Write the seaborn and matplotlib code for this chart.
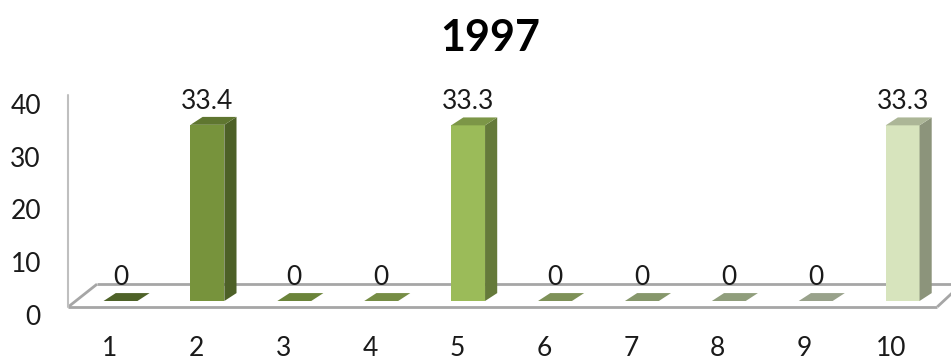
import matplotlib
matplotlib.use("Agg")
import matplotlib.pyplot as plt
from matplotlib.patches import Polygon
from matplotlib.transforms import ScaledTranslation
import matplotlib.colors as mcolors
import pandas as pd
import seaborn as sns

# Data
categories = ["1", "2", "3", "4", "5", "6", "7", "8", "9", "10"]
values = [0, 33.4, 0, 0, 33.3, 0, 0, 0, 0, 33.3]
y_ticks = [0, 10, 20, 30, 40]
title = "1997"

# Front-face colours, one per category (olive green fading to pale sage)
palette = ["#617B32", "#77933C", "#86A548", "#93B056", "#9BBB59",
           "#9DB56E", "#A8BD86", "#B4C59B", "#BFCBAE", "#D7E4BD"]


def shade(color, factor):
    r, g, b = mcolors.to_rgb(color)
    return (r * factor, g * factor, b * factor)


sns.set_theme(style="white")
plt.rcParams["font.family"] = ["Lato", "DejaVu Sans"]

W, H = 951, 364
fig = plt.figure(figsize=(W / 100, H / 100), dpi=100)

# pixel geometry of the plotting region
ax_left, ax_right, ax_top, ax_bottom = 50, 951, 60, 330
ax = fig.add_axes([ax_left / W, (H - ax_bottom) / H,
                   (ax_right - ax_left) / W, (ax_bottom - ax_top) / H])

df = pd.DataFrame({"cat": categories, "val": values})
sns.barplot(data=df, x="cat", y="val", hue="cat", palette=palette,
            legend=False, width=0.39, saturation=1, linewidth=0,
            ax=ax, zorder=4)

# axis scaling: 86.9 px per category, 5.275 px per unit, zero at y=301 px
px_x, px_y, x0_px, y0_px = 86.9, 5.275, 120.5, 301
ax.set_xlim((ax_left - x0_px) / px_x, (ax_right - x0_px) / px_x)
ax.set_ylim((y0_px - ax_bottom) / px_y, (y0_px - ax_top) / px_y)

# floor of the 3-D box
floor_front, floor_back = -1.1, 3.2
fl, bl, fr, br = -0.60, -0.27, 9.40, 9.68
ax.add_patch(Polygon([(fl, floor_front), (fr, floor_front),
                      (br, floor_back), (bl, floor_back)],
                     closed=True, facecolor="white", edgecolor="none",
                     zorder=1))
line_kw = dict(color="#A6A6A6", lw=2.0, solid_capstyle="butt", zorder=2)
ax.plot([fl, fr], [floor_front, floor_front], **line_kw)
ax.plot([bl, br], [floor_back, floor_back], **line_kw)
ax.plot([fl, bl], [floor_front, floor_back], **line_kw)
ax.plot([fr, br], [floor_front, floor_back], **line_kw)
# vertical wall edge
ax.plot([fl, fl], [floor_front, 39.0], color="#BFBFBF", lw=1.5, zorder=2)

# side and top faces give the bars their depth
dx, dy = 0.14, 1.5
for patch, col in zip(ax.patches[:], palette):
    x0 = patch.get_x()
    w = patch.get_width()
    h = patch.get_height()
    side = [(x0 + w, 0), (x0 + w + dx, dy), (x0 + w + dx, h + dy), (x0 + w, h)]
    top = [(x0, h), (x0 + w, h), (x0 + w + dx, h + dy), (x0 + dx, h + dy)]
    ax.add_patch(Polygon(side, closed=True, facecolor=shade(col, 0.65),
                         edgecolor="none", zorder=4))
    ax.add_patch(Polygon(top, closed=True, facecolor=shade(col, 0.8),
                         edgecolor="none", zorder=4))

# value labels above each bar
for container in ax.containers:
    ax.bar_label(container, fmt="%g", padding=8, fontsize=19,
                 color="#1A1A1A")

ax.set_yticks(y_ticks)
ax.set_yticklabels([str(t) for t in y_ticks])
ax.set_xlabel("")
ax.set_ylabel("")
ax.tick_params(axis="both", length=0, labelsize=19, colors="#1A1A1A")
ax.tick_params(axis="y", pad=6.5)
ax.tick_params(axis="x", pad=4)
for s in ax.spines.values():
    s.set_visible(False)

# tick labels sit slightly off the gridline positions
for lab in ax.get_yticklabels():
    lab.set_transform(lab.get_transform() +
                      ScaledTranslation(0, -10 / 72, fig.dpi_scale_trans))
for lab in ax.get_xticklabels():
    lab.set_transform(lab.get_transform() +
                      ScaledTranslation(-8 / 72, 0, fig.dpi_scale_trans))

fig.text(490 / W, 1 - 38 / H, title, ha="center", va="center",
         fontsize=31, fontweight="bold", color="#000000")

fig.savefig("out.png", dpi=100, facecolor="white")
